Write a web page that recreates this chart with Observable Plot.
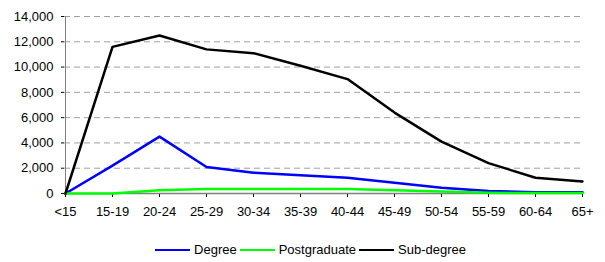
<!DOCTYPE html>
<html><head><meta charset="utf-8">
<script src="https://cdn.jsdelivr.net/npm/d3@7"></script>
<script src="https://cdn.jsdelivr.net/npm/@observablehq/plot@0.6"></script>
<style>
body{margin:0;background:#fff;font-family:"Liberation Sans",Arial,sans-serif;}
#chart svg{display:block;}
#legend{display:flex;justify-content:center;gap:3px;font-size:13px;color:#000;margin-top:17px;padding-left:16px;line-height:16px;}
.item{display:flex;align-items:center;gap:4px;}
.sw{width:35px;height:0;border-top:2.5px solid;}
</style></head><body>
<div id="chart"></div>
<div id="legend"></div>
<script>
const ageGroups = ["<15","15-19","20-24","25-29","30-34","35-39","40-44","45-49","50-54","55-59","60-64","65+"];
const degree = [0,2200,4500,2100,1650,1450,1250,850,450,200,100,100];
const postgraduate = [0,0,250,350,350,350,350,250,150,60,30,30];
const subDegree = [0,11600,12500,11400,11100,10100,9050,6400,4100,2400,1250,950];
const seriesNames = ["Degree","Postgraduate","Sub-degree"];
const seriesColors = ["#0000ff","#00ff00","#000000"];
const yTicks = [0,2000,4000,6000,8000,10000,12000,14000];

const allSeries = [degree, postgraduate, subDegree];
const data = [];
allSeries.forEach((vals, si) => vals.forEach((v, i) => data.push({age: ageGroups[i], value: v, series: seriesNames[si]})));

const chart = Plot.plot({
  width: 605, height: 225,
  marginLeft: 64, marginRight: 23, marginTop: 16, marginBottom: 32,
  style: {fontFamily: '"Liberation Sans", Arial, sans-serif', fontSize: "13px", color: "#000", background: "#fff"},
  x: {type: "point", domain: ageGroups, padding: 0, label: null},
  y: {domain: [0, 14000], label: null},
  color: {domain: seriesNames, range: seriesColors},
  marks: [
    Plot.ruleY(yTicks.filter(d => d > 0), {stroke: "#a0a0a0", strokeDasharray: "6,4", strokeWidth: 1}),
    Plot.axisY({ticks: yTicks, tickFormat: d3.format(","), tickSize: 3, tickPadding: 8, stroke: "#000", fontSize: 13}),
    Plot.axisX({tickSize: 4, tickPadding: 9, stroke: "#000", fontSize: 13}),
    Plot.ruleX([ageGroups[0]], {stroke: "#808080"}),
    Plot.ruleY([0], {stroke: "#808080", strokeWidth: 1.5}),
    Plot.line(data, {x: "age", y: "value", z: "series", stroke: "series", strokeWidth: 2.5})
  ]
});
document.getElementById("chart").appendChild(chart);

const lg = document.getElementById("legend");
seriesNames.forEach((n, i) => {
  const it = document.createElement("div"); it.className = "item";
  const sw = document.createElement("div"); sw.className = "sw"; sw.style.borderTopColor = seriesColors[i];
  const t = document.createElement("span"); t.textContent = n;
  it.appendChild(sw); it.appendChild(t); lg.appendChild(it);
});
</script>
</body></html>
